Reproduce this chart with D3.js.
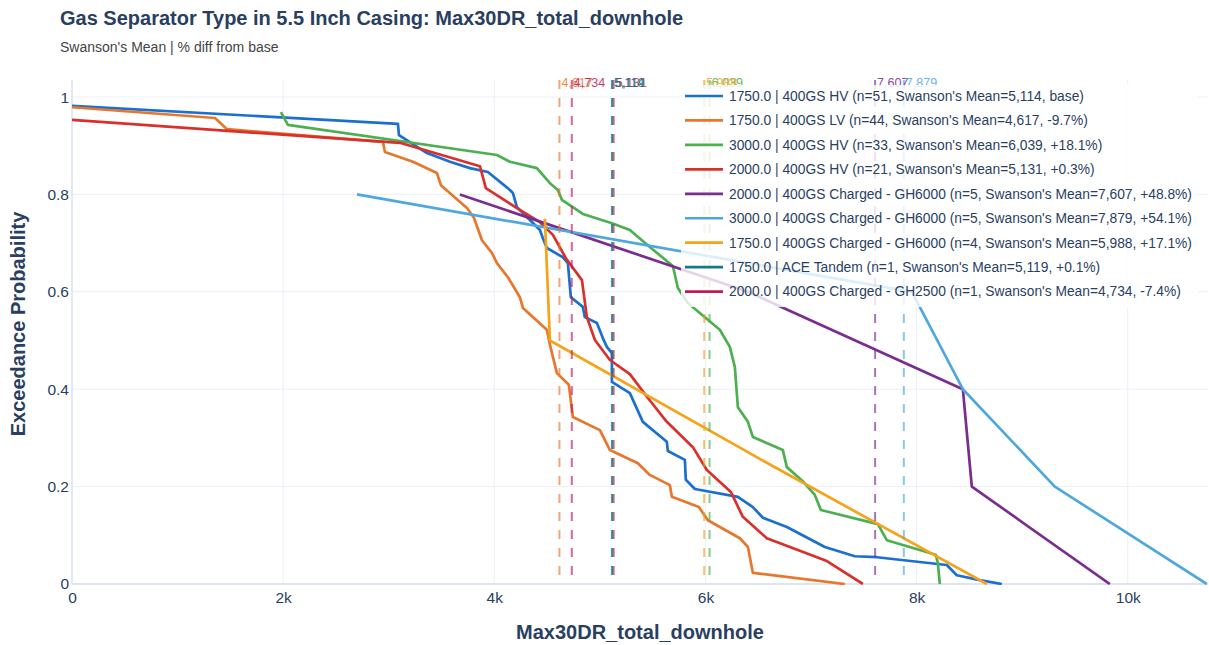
<!DOCTYPE html>
<html>
<head>
<meta charset="utf-8">
<script src="https://cdn.jsdelivr.net/npm/d3@7"></script>
<style>
body { margin: 0; background: #fff; }
svg { display: block; font-family: "Liberation Sans", Arial, sans-serif; }
</style>
</head>
<body>
<svg id="chart" width="1209" height="645"></svg>
<script>
// ---- data ----
const seriesNames = [
	"1750.0 | 400GS HV",
	"1750.0 | 400GS LV",
	"3000.0 | 400GS HV",
	"2000.0 | 400GS HV",
	"2000.0 | 400GS Charged - GH6000",
	"3000.0 | 400GS Charged - GH6000",
	"1750.0 | 400GS Charged - GH6000",
	"1750.0 | ACE Tandem",
	"2000.0 | 400GS Charged - GH2500"
];
const seriesN = [51, 44, 33, 21, 5, 5, 4, 1, 1];
const swansonMeans = [5114, 4617, 6039, 5131, 7607, 7879, 5988, 5119, 4734];
const pctDiff = ["base", "-9.7%", "+18.1%", "+0.3%", "+48.8%", "+54.1%", "+17.1%", "+0.1%", "-7.4%"];
const seriesColors = ["#1a6fd0", "#e8772e", "#4caf50", "#d9302c", "#7b2c8f", "#4ea8de", "#f5a31a", "#147a8a", "#c2185b"];

// exceedance curves: x = Max30DR_total_downhole, y = exceedance probability
const hv1750X = [0, 3087, 3097, 3362, 3580, 3769, 3939, 4148, 4176, 4214, 4271, 4432, 4460, 4498, 4650, 4697, 4725, 4839, 4858, 4972, 5028, 5066, 5114, 5114, 5284, 5407, 5634, 5644, 5805, 5814, 5900, 6307, 6449, 6544, 6771, 7131, 7415, 7623, 8286, 8381, 8598, 8807];
const hv1750Y = [0.982, 0.945, 0.922, 0.885, 0.867, 0.854, 0.846, 0.809, 0.803, 0.774, 0.762, 0.727, 0.710, 0.690, 0.671, 0.659, 0.589, 0.569, 0.548, 0.536, 0.505, 0.487, 0.474, 0.415, 0.392, 0.333, 0.292, 0.273, 0.255, 0.214, 0.195, 0.179, 0.158, 0.136, 0.117, 0.076, 0.057, 0.055, 0.039, 0.018, 0.008, 0];

const lv1750X = [0, 1354, 1468, 2945, 2964, 3229, 3456, 3494, 3741, 3807, 3883, 3977, 4025, 4129, 4242, 4271, 4498, 4527, 4593, 4706, 4744, 5000, 5095, 5360, 5473, 5663, 5682, 5938, 6023, 6326, 6402, 6449, 7320];
const lv1750Y = [0.979, 0.957, 0.934, 0.908, 0.887, 0.867, 0.844, 0.819, 0.772, 0.752, 0.706, 0.680, 0.659, 0.630, 0.589, 0.567, 0.522, 0.491, 0.433, 0.409, 0.343, 0.316, 0.275, 0.248, 0.224, 0.203, 0.179, 0.158, 0.131, 0.094, 0.076, 0.023, 0];

const hv3000X = [1979, 2045, 4025, 4148, 4403, 4527, 4602, 4640, 4839, 5114, 5284, 5473, 5691, 5739, 5833, 6136, 6231, 6278, 6307, 6402, 6449, 6733, 6771, 6922, 7036, 7093, 7633, 7718, 8182, 8201, 8220];
const hv3000Y = [0.969, 0.943, 0.881, 0.867, 0.854, 0.823, 0.809, 0.789, 0.760, 0.741, 0.727, 0.692, 0.653, 0.608, 0.577, 0.522, 0.487, 0.446, 0.363, 0.333, 0.302, 0.275, 0.240, 0.211, 0.183, 0.152, 0.123, 0.090, 0.060, 0.043, 0];

const hv2000X = [0, 3106, 3864, 3920, 4214, 4432, 4555, 4678, 4830, 4877, 4953, 5095, 5284, 5455, 5634, 5881, 6013, 6241, 6354, 6581, 7150, 7491];
const hv2000Y = [0.953, 0.906, 0.858, 0.813, 0.772, 0.743, 0.717, 0.669, 0.624, 0.548, 0.501, 0.460, 0.431, 0.382, 0.333, 0.281, 0.234, 0.189, 0.138, 0.094, 0.047, 0];

const gh6000_2000X = [3674, 6402, 8438, 8523, 9830];
const gh6000_2000Y = [0.8, 0.6, 0.4, 0.2, 0];

const gh6000_3000X = [2699, 7955, 8438, 9309, 10748];
const gh6000_3000Y = [0.8, 0.6, 0.4, 0.2, 0];

const gh6000_1750X = [4479, 4527, 6572, 8665];
const gh6000_1750Y = [0.75, 0.5, 0.25, 0];

const aceTandemX = [5119];
const aceTandemY = [0];

const gh2500_2000X = [4734];
const gh2500_2000Y = [0];

const allX = [hv1750X, lv1750X, hv3000X, hv2000X, gh6000_2000X, gh6000_3000X, gh6000_1750X, aceTandemX, gh2500_2000X];
const allY = [hv1750Y, lv1750Y, hv3000Y, hv2000Y, gh6000_2000Y, gh6000_3000Y, gh6000_1750Y, aceTandemY, gh2500_2000Y];

const xTicks = [0, 2000, 4000, 6000, 8000, 10000];
const xTickLabels = ["0", "2k", "4k", "6k", "8k", "10k"];
const yTicks = [0, 0.2, 0.4, 0.6, 0.8, 1];
const yTickLabels = ["0", "0.2", "0.4", "0.6", "0.8", "1"];

// ---- chart ----
const svg = d3.select("#chart");
const textColor = "#2a3f5f";
const plotLeft = 72, plotRight = 1208, plotTop = 80, plotBottom = 584;

const x = d3.scaleLinear().domain([0, 10760]).range([plotLeft, plotRight]);
const y = d3.scaleLinear().domain([0, 1.035]).range([plotBottom, plotTop]);

svg.append("defs").append("clipPath").attr("id", "plot-clip")
	.append("rect")
	.attr("x", plotLeft).attr("y", plotTop)
	.attr("width", plotRight - plotLeft + 1).attr("height", plotBottom - plotTop + 1);

// grid
const grid = svg.append("g");
grid.selectAll(".vgrid")
	.data(xTicks.filter(d => d !== 0))
	.enter().append("line")
	.attr("x1", d => x(d)).attr("x2", d => x(d))
	.attr("y1", plotTop).attr("y2", plotBottom)
	.attr("stroke", "#ebf0f8").attr("stroke-width", 1);
grid.selectAll(".hgrid")
	.data(yTicks.filter(d => d !== 0))
	.enter().append("line")
	.attr("x1", plotLeft).attr("x2", plotRight)
	.attr("y1", d => y(d)).attr("y2", d => y(d))
	.attr("stroke", "#ebf0f8").attr("stroke-width", 1);
// zero lines
grid.append("line")
	.attr("x1", x(0)).attr("x2", x(0)).attr("y1", plotTop).attr("y2", plotBottom)
	.attr("stroke", "#e3e9f2").attr("stroke-width", 2);
grid.append("line")
	.attr("x1", plotLeft).attr("x2", plotRight).attr("y1", y(0)).attr("y2", y(0))
	.attr("stroke", "#dde4ee").attr("stroke-width", 2);

// series lines
const line = d3.line().x(d => x(d[0])).y(d => y(d[1]));
const plotG = svg.append("g").attr("clip-path", "url(#plot-clip)");
allX.forEach((xs, i) => {
	const pts = xs.map((v, j) => [v, allY[i][j]]);
	plotG.append("path")
		.datum(pts)
		.attr("d", line)
		.attr("fill", "none")
		.attr("stroke", seriesColors[i])
		.attr("stroke-width", 2.7)
		.attr("stroke-linejoin", "round");
});

// mean lines + labels
swansonMeans.forEach((m, i) => {
	plotG.append("line")
		.attr("x1", x(m)).attr("x2", x(m))
		.attr("y1", plotTop).attr("y2", plotBottom)
		.attr("stroke", seriesColors[i])
		.attr("stroke-width", 2)
		.attr("stroke-dasharray", "9,9")
		.attr("opacity", 0.65);
	svg.append("text")
		.attr("x", x(m) + 2).attr("y", 87)
		.attr("font-size", 12.5)
		.attr("fill", seriesColors[i])
		.attr("opacity", 0.85)
		.text(d3.format(",")(m));
});

// axes
const xAxis = svg.append("g")
	.attr("transform", `translate(0,${plotBottom})`)
	.call(d3.axisBottom(x).tickValues(xTicks).tickFormat((d, i) => xTickLabels[i]).tickSize(0).tickPadding(8));
const yAxis = svg.append("g")
	.attr("transform", `translate(${plotLeft},0)`)
	.call(d3.axisLeft(y).tickValues(yTicks).tickFormat((d, i) => yTickLabels[i]).tickSize(0).tickPadding(3));
[xAxis, yAxis].forEach(a => {
	a.select(".domain").remove();
	a.selectAll("text")
		.attr("font-size", 15.5)
		.attr("fill", textColor)
		.attr("font-family", "\"Liberation Sans\", Arial, sans-serif");
});

// legend
const legend = svg.append("g");
const legendBg = legend.append("rect")
	.attr("fill", "rgba(255,255,255,0.8)");
const rowStep = 24.45, firstRow = 96, legendX = 685;
let maxW = 0;
seriesNames.forEach((name, i) => {
	const cy = firstRow + i * rowStep;
	legend.append("line")
		.attr("x1", legendX).attr("x2", legendX + 38)
		.attr("y1", cy).attr("y2", cy)
		.attr("stroke", seriesColors[i]).attr("stroke-width", 2.7);
	const t = legend.append("text")
		.attr("x", legendX + 44).attr("y", cy + 4.8)
		.attr("font-size", 13.8)
		.attr("fill", textColor)
		.text(`${name} (n=${seriesN[i]}, Swanson's Mean=${d3.format(",")(swansonMeans[i])}, ${pctDiff[i]})`);
	maxW = Math.max(maxW, t.node().getComputedTextLength());
});
legendBg
	.attr("x", legendX - 4).attr("y", firstRow - 11)
	.attr("width", maxW + 54)
	.attr("height", rowStep * seriesNames.length + 2);

// titles
svg.append("text")
	.attr("x", 60).attr("y", 25)
	.attr("font-size", 20).attr("font-weight", "bold")
	.attr("fill", textColor)
	.text("Gas Separator Type in 5.5 Inch Casing: Max30DR_total_downhole");
svg.append("text")
	.attr("x", 60).attr("y", 52)
	.attr("font-size", 14)
	.attr("fill", "#444")
	.text("Swanson's Mean | % diff from base");
svg.append("text")
	.attr("x", (plotLeft + plotRight) / 2).attr("y", 639)
	.attr("text-anchor", "middle")
	.attr("font-size", 20).attr("font-weight", "bold")
	.attr("fill", textColor)
	.text("Max30DR_total_downhole");
svg.append("text")
	.attr("transform", `translate(25,${(plotTop + plotBottom) / 2 - 8}) rotate(-90)`)
	.attr("text-anchor", "middle")
	.attr("font-size", 20).attr("font-weight", "bold")
	.attr("fill", textColor)
	.text("Exceedance Probability");
</script>
</body>
</html>
